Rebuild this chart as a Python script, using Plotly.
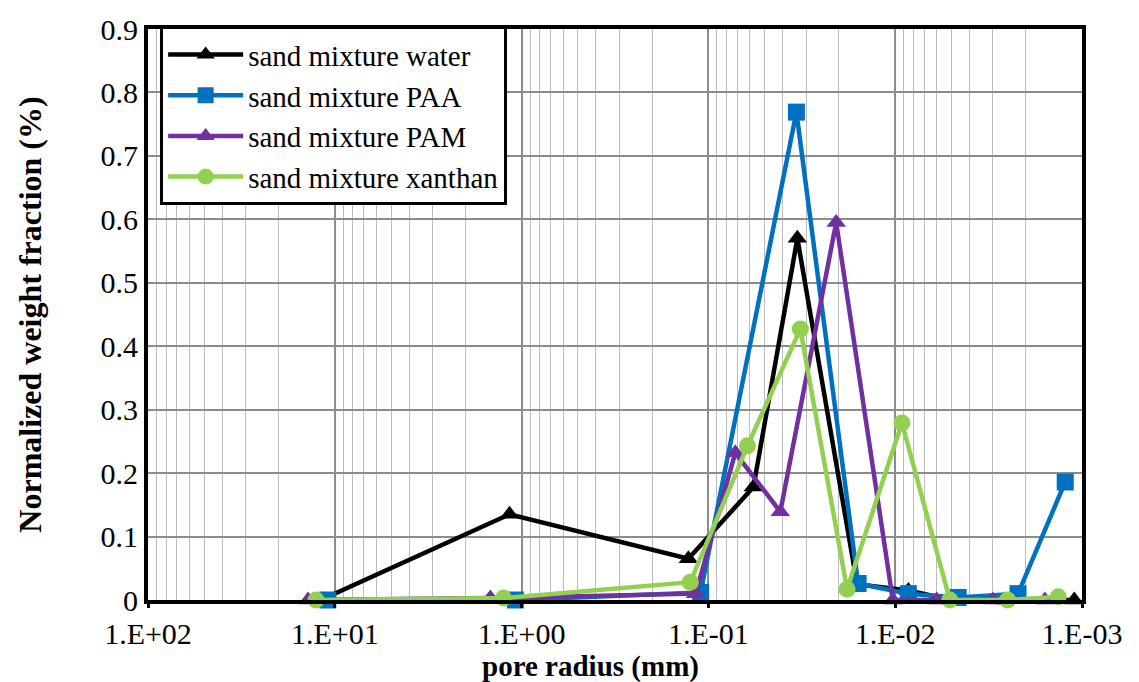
import plotly.graph_objects as go

# pore radius (mm) and normalized weight fraction (%) per series
water_r = [11.9, 1.16, 0.128, 0.0574, 0.0334, 0.016, 0.0085, 0.005, 0.0026, 0.0011]
water_w = [0.0, 0.135, 0.065, 0.178, 0.57, 0.025, 0.015, 0.0, 0.0, 0.0]

paa_r = [10.9, 1.08, 0.110, 0.0338, 0.0158, 0.0085, 0.0046, 0.0022, 0.00123]
paa_w = [0.0, 0.0, 0.012, 0.769, 0.026, 0.01, 0.004, 0.01, 0.186]

pam_r = [13.9, 1.47, 0.117, 0.0718, 0.0412, 0.0207, 0.0103, 0.006, 0.003, 0.00158]
pam_w = [0.0, 0.003, 0.01, 0.232, 0.139, 0.595, 0.0, 0.0, 0.0, 0.0]

xan_r = [12.6, 1.25, 0.125, 0.0618, 0.0322, 0.0181, 0.0092, 0.0051, 0.0025, 0.00134]
xan_w = [0.0, 0.003, 0.028, 0.243, 0.427, 0.017, 0.279, 0.0, 0.0, 0.005]

x_tickvals = [100, 10, 1, 0.1, 0.01, 0.001]
x_ticktext = ["1.E+02", "1.E+01", "1.E+00", "1.E-01", "1.E-02", "1.E-03"]

series = [
    ("sand mixture water", water_r, water_w, "#000000", "triangle-up"),
    ("sand mixture PAA", paa_r, paa_w, "#0070C0", "square"),
    ("sand mixture PAM", pam_r, pam_w, "#7030A0", "triangle-up"),
    ("sand mixture xanthan", xan_r, xan_w, "#92D050", "circle"),
]

FONT = "Liberation Serif"

fig = go.Figure()
for name, xs, ys, color, sym in series:
    fig.add_trace(go.Scatter(
        x=xs, y=ys, name=name, mode="lines+markers",
        line=dict(color=color, width=4.5),
        marker=dict(symbol=sym, size=17, color=color),
        cliponaxis=False,
    ))

fig.add_annotation(
    text="<b>pore radius (mm)</b>", xref="paper", yref="paper",
    x=0.474, y=-0.116, xanchor="center", yanchor="middle", showarrow=False,
    font=dict(family=FONT, size=29, color="black"),
)

fig.update_layout(
    width=1139, height=682,
    margin=dict(l=148, r=57, t=20, b=82),
    paper_bgcolor="white", plot_bgcolor="white",
    font=dict(family=FONT, size=30, color="black"),
    showlegend=True,
    legend=dict(
        x=0.013, y=1.005, xanchor="left", yanchor="top",
        bgcolor="white", bordercolor="black", borderwidth=3,
        font=dict(family=FONT, size=29, color="black"),
        tracegroupgap=0, itemwidth=75,
    ),
    xaxis=dict(
        type="log", range=[2, -3],
        tickmode="array", tickvals=x_tickvals, ticktext=x_ticktext,
        showgrid=True, gridcolor="#8c8c8c", gridwidth=1.5,
        minor=dict(dtick="D1", showgrid=True, gridcolor="#bdbdbd", gridwidth=1, ticks=""),
        showline=True, linecolor="black", linewidth=4, mirror=True,
        ticks="outside", ticklen=4, tickwidth=3, tickcolor="black",
        tickfont=dict(family=FONT, size=30),
        zeroline=False,
    ),
    yaxis=dict(
        range=[0, 0.9], dtick=0.1, tick0=0,
        showgrid=True, gridcolor="#8c8c8c", gridwidth=1.5,
        showline=True, linecolor="black", linewidth=4, mirror=True,
        ticks="", tickfont=dict(family=FONT, size=30),
        title=dict(text="<b>Normalized weight fraction (%)</b>", font=dict(family=FONT, size=32), standoff=50),
        zeroline=False,
    ),
)

fig.write_html("out.html")
